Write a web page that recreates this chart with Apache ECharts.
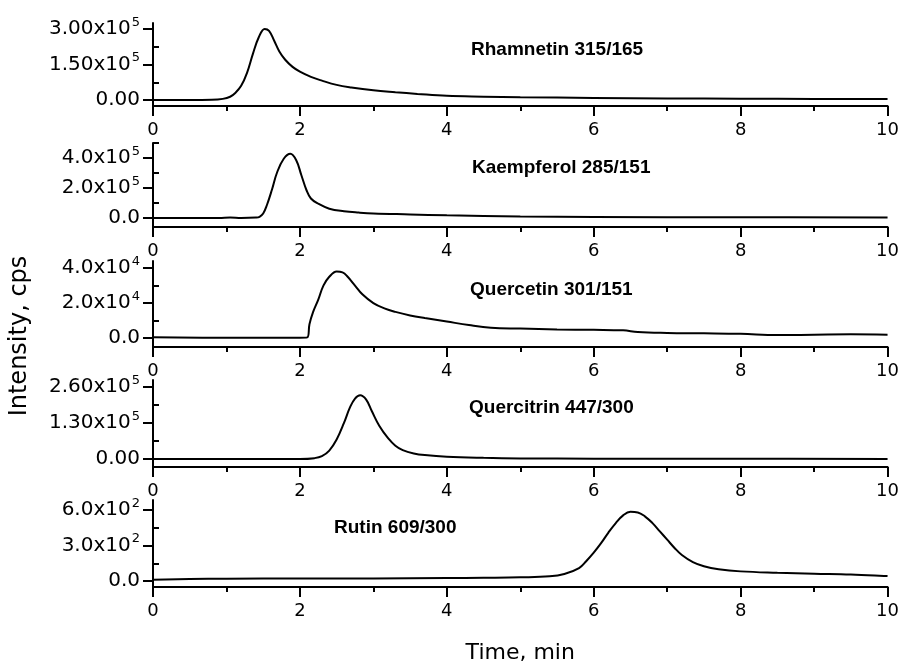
<!DOCTYPE html>
<html>
<head>
<meta charset="utf-8">
<script src="https://cdn.jsdelivr.net/npm/echarts@6/dist/echarts.min.js"></script>
<style>
html,body{margin:0;padding:0;background:#fff;}
#chart{width:902px;height:666px;}
</style>
</head>
<body>
<div id="chart"></div>
<script>
// ---------- data ----------
const xTicks = [0, 2, 4, 6, 8, 10];

const rhamnetinTime = [0, 0.5, 0.8, 0.95, 1.05, 1.12, 1.2, 1.28, 1.36, 1.44, 1.52, 1.58, 1.65, 1.72, 1.8, 1.9, 2.0, 2.15, 2.3, 2.5, 2.7, 3.0, 3.3, 3.6, 4.0, 4.5, 5.0, 6.0, 7.0, 8.0, 9.0, 10.0];
const rhamnetinIntensity = [0, 0, 1000, 5000, 14000, 30000, 60000, 115000, 195000, 265000, 300000, 292000, 250000, 205000, 170000, 140000, 120000, 98000, 82000, 64000, 53000, 41000, 33000, 26000, 18000, 14500, 12000, 9000, 7000, 6000, 5000, 4000];

const kaempferolTime = [0, 0.9, 1.05, 1.2, 1.4, 1.45, 1.5, 1.55, 1.62, 1.69, 1.78, 1.87, 1.95, 2.02, 2.09, 2.15, 2.25, 2.4, 2.6, 2.8, 3.0, 3.5, 4.0, 5.0, 6.0, 8.0, 10.0];
const kaempferolIntensity = [0, 0, 3000, 0, 3000, 8000, 30000, 85000, 190000, 305000, 395000, 428000, 385000, 285000, 185000, 130000, 95000, 62000, 45000, 36000, 30000, 24000, 18000, 10000, 7000, 5000, 4000];

const quercetinTime = [0, 1, 2.0, 2.1, 2.13, 2.18, 2.25, 2.32, 2.4, 2.5, 2.58, 2.65, 2.75, 2.85, 3.0, 3.15, 3.3, 3.5, 3.7, 4.0, 4.3, 4.6, 5.0, 5.5, 6.0, 6.4, 6.6, 7.0, 7.5, 8.0, 8.5, 9.0, 9.5, 10];
const quercetinIntensity = [500, 300, 300, 500, 8000, 15000, 22000, 30000, 35000, 38000, 37500, 35000, 30000, 25000, 20000, 17000, 15000, 13000, 11500, 9500, 7500, 6000, 5500, 5000, 4800, 4500, 3500, 3000, 2800, 2500, 1800, 2000, 2200, 2000];

const quercitrinTime = [0, 2.0, 2.2, 2.3, 2.4, 2.5, 2.6, 2.68, 2.75, 2.82, 2.9, 2.98, 3.08, 3.2, 3.3, 3.4, 3.55, 3.7, 4.0, 4.5, 5, 6, 8, 10];
const quercitrinIntensity = [0, 0, 3000, 10000, 30000, 70000, 130000, 185000, 218000, 230000, 215000, 172000, 120000, 75000, 48000, 32000, 20000, 14000, 8000, 4000, 2000, 1000, 500, 0];

const rutinTime = [0, 0.5, 1, 2, 3, 4, 4.5, 5, 5.4, 5.6, 5.8, 5.9, 6.0, 6.1, 6.2, 6.3, 6.4, 6.5, 6.6, 6.7, 6.8, 6.9, 7.0, 7.1, 7.2, 7.35, 7.5, 7.7, 8.0, 8.5, 9.0, 9.5, 10];
const rutinIntensity = [12, 18, 20, 22, 22, 25, 28, 32, 40, 60, 110, 170, 240, 320, 410, 490, 555, 585, 580, 545, 490, 420, 350, 280, 220, 160, 125, 100, 82, 70, 62, 55, 42];

const panelNames = ['Rhamnetin 315/165', 'Kaempferol 285/151', 'Quercetin 301/151', 'Quercitrin 447/300', 'Rutin 609/300'];

const rhamnetinTickValues = [0, 150000, 300000];
const rhamnetinTickLabels = ['0.00', '1.50x10^5', '3.00x10^5'];
const rhamnetinMinorTicks = [75000, 225000];

const kaempferolTickValues = [0, 200000, 400000];
const kaempferolTickLabels = ['0.0', '2.0x10^5', '4.0x10^5'];
const kaempferolMinorTicks = [100000, 300000, 500000];

const quercetinTickValues = [0, 20000, 40000];
const quercetinTickLabels = ['0.0', '2.0x10^4', '4.0x10^4'];
const quercetinMinorTicks = [10000, 30000];

const quercitrinTickValues = [0, 130000, 260000];
const quercitrinTickLabels = ['0.00', '1.30x10^5', '2.60x10^5'];
const quercitrinMinorTicks = [65000, 195000];

const rutinTickValues = [0, 300, 600];
const rutinTickLabels = ['0.0', '3.0x10^2', '6.0x10^2'];
const rutinMinorTicks = [150, 450];

// ---------- layout ----------
const FONT = 'DejaVu Sans';
const panels = [
  {time: rhamnetinTime, val: rhamnetinIntensity, tv: rhamnetinTickValues, tl: rhamnetinTickLabels, mt: rhamnetinMinorTicks, min: -25000, max: 325000, top: 23, height: 83, nameX: 471, nameY: 50},
  {time: kaempferolTime, val: kaempferolIntensity, tv: kaempferolTickValues, tl: kaempferolTickLabels, mt: kaempferolMinorTicks, min: -60000, max: 500000, top: 143, height: 84, nameX: 472, nameY: 168},
  {time: quercetinTime, val: quercetinIntensity, tv: quercetinTickValues, tl: quercetinTickLabels, mt: quercetinMinorTicks, min: -5000, max: 44000, top: 261, height: 86, nameX: 470, nameY: 290},
  {time: quercitrinTime, val: quercitrinIntensity, tv: quercitrinTickValues, tl: quercitrinTickLabels, mt: quercitrinMinorTicks, min: -29000, max: 285000, top: 380, height: 87, nameX: 469, nameY: 408},
  {time: rutinTime, val: rutinIntensity, tv: rutinTickValues, tl: rutinTickLabels, mt: rutinMinorTicks, min: -50, max: 685, top: 500, height: 87, nameX: 334, nameY: 528}
];

function fmtFactory(p) {
  return function (v) {
    const i = p.tv.indexOf(v);
    if (i < 0) return '';
    const s = p.tl[i];
    if (s.indexOf('^') >= 0) {
      const parts = s.split('^');
      return '{m|' + parts[0] + '}{s|' + parts[1] + '}';
    }
    return '{m|' + s + '}';
  };
}

const grids = [], xAxes = [], yAxes = [], series = [], graphics = [];
panels.forEach(function (p, i) {
  grids.push({left: 153, width: 737, top: p.top, height: p.height, containLabel: false});
  xAxes.push({
    type: 'value', gridIndex: i, min: 0, max: 10, interval: 2,
    axisLine: {onZero: false, lineStyle: {color: '#000', width: 2}},
    axisTick: {length: 10, lineStyle: {color: '#000', width: 2}},
    minorTick: {show: true, splitNumber: 2, length: 5, lineStyle: {color: '#000', width: 2}},
    axisLabel: {color: '#000', fontFamily: FONT, fontSize: 18, margin: 15,
      customValues: xTicks},
    splitLine: {show: false}, minorSplitLine: {show: false},
    name: i === 4 ? 'Time, min' : '', nameLocation: 'middle', nameGap: 55,
    nameTextStyle: {color: '#000', fontFamily: FONT, fontSize: 22}
  });
  yAxes.push({
    type: 'value', gridIndex: i, min: p.min, max: p.max,
    axisLine: {show: true, onZero: false, lineStyle: {color: '#000', width: 2}},
    axisTick: {show: true, length: 10, customValues: p.tv, lineStyle: {color: '#000', width: 2}},
    axisLabel: {customValues: p.tv, margin: 13, formatter: fmtFactory(p),
      rich: {
        m: {fontFamily: FONT, fontSize: 20, color: '#000', lineHeight: 26},
        s: {fontFamily: FONT, fontSize: 13, color: '#000', verticalAlign: 'top', padding: [0, 0, 0, 1]}
      }},
    splitLine: {show: false}
  });
  yAxes.push({
    type: 'value', gridIndex: i, min: p.min, max: p.max,
    axisLine: {show: false},
    axisTick: {show: true, length: 6, customValues: p.mt, lineStyle: {color: '#000', width: 2}},
    axisLabel: {show: false},
    splitLine: {show: false}
  });
  series.push({
    type: 'line', xAxisIndex: i, yAxisIndex: 2 * i,
    data: p.time.map(function (t, k) { return [t, p.val[k]]; }),
    showSymbol: false, smooth: 0.4,
    lineStyle: {color: '#000', width: 2}, silent: true
  });
  graphics.push({
    type: 'text', x: p.nameX, y: p.nameY,
    style: {text: panelNames[i], fill: '#000', font: 'bold 19px "Liberation Sans"', textVerticalAlign: 'middle'}
  });
});
graphics.push({
  type: 'text', x: 20, y: 336, rotation: Math.PI / 2,
  style: {text: 'Intensity, cps', fill: '#000', font: '24px "DejaVu Sans"', textAlign: 'center', textVerticalAlign: 'middle'}
});

const chart = echarts.init(document.getElementById('chart'), null, {renderer: 'canvas'});
chart.setOption({
  animation: false,
  backgroundColor: '#fff',
  grid: grids,
  xAxis: xAxes,
  yAxis: yAxes,
  series: series,
  graphic: graphics
});
</script>
</body>
</html>
